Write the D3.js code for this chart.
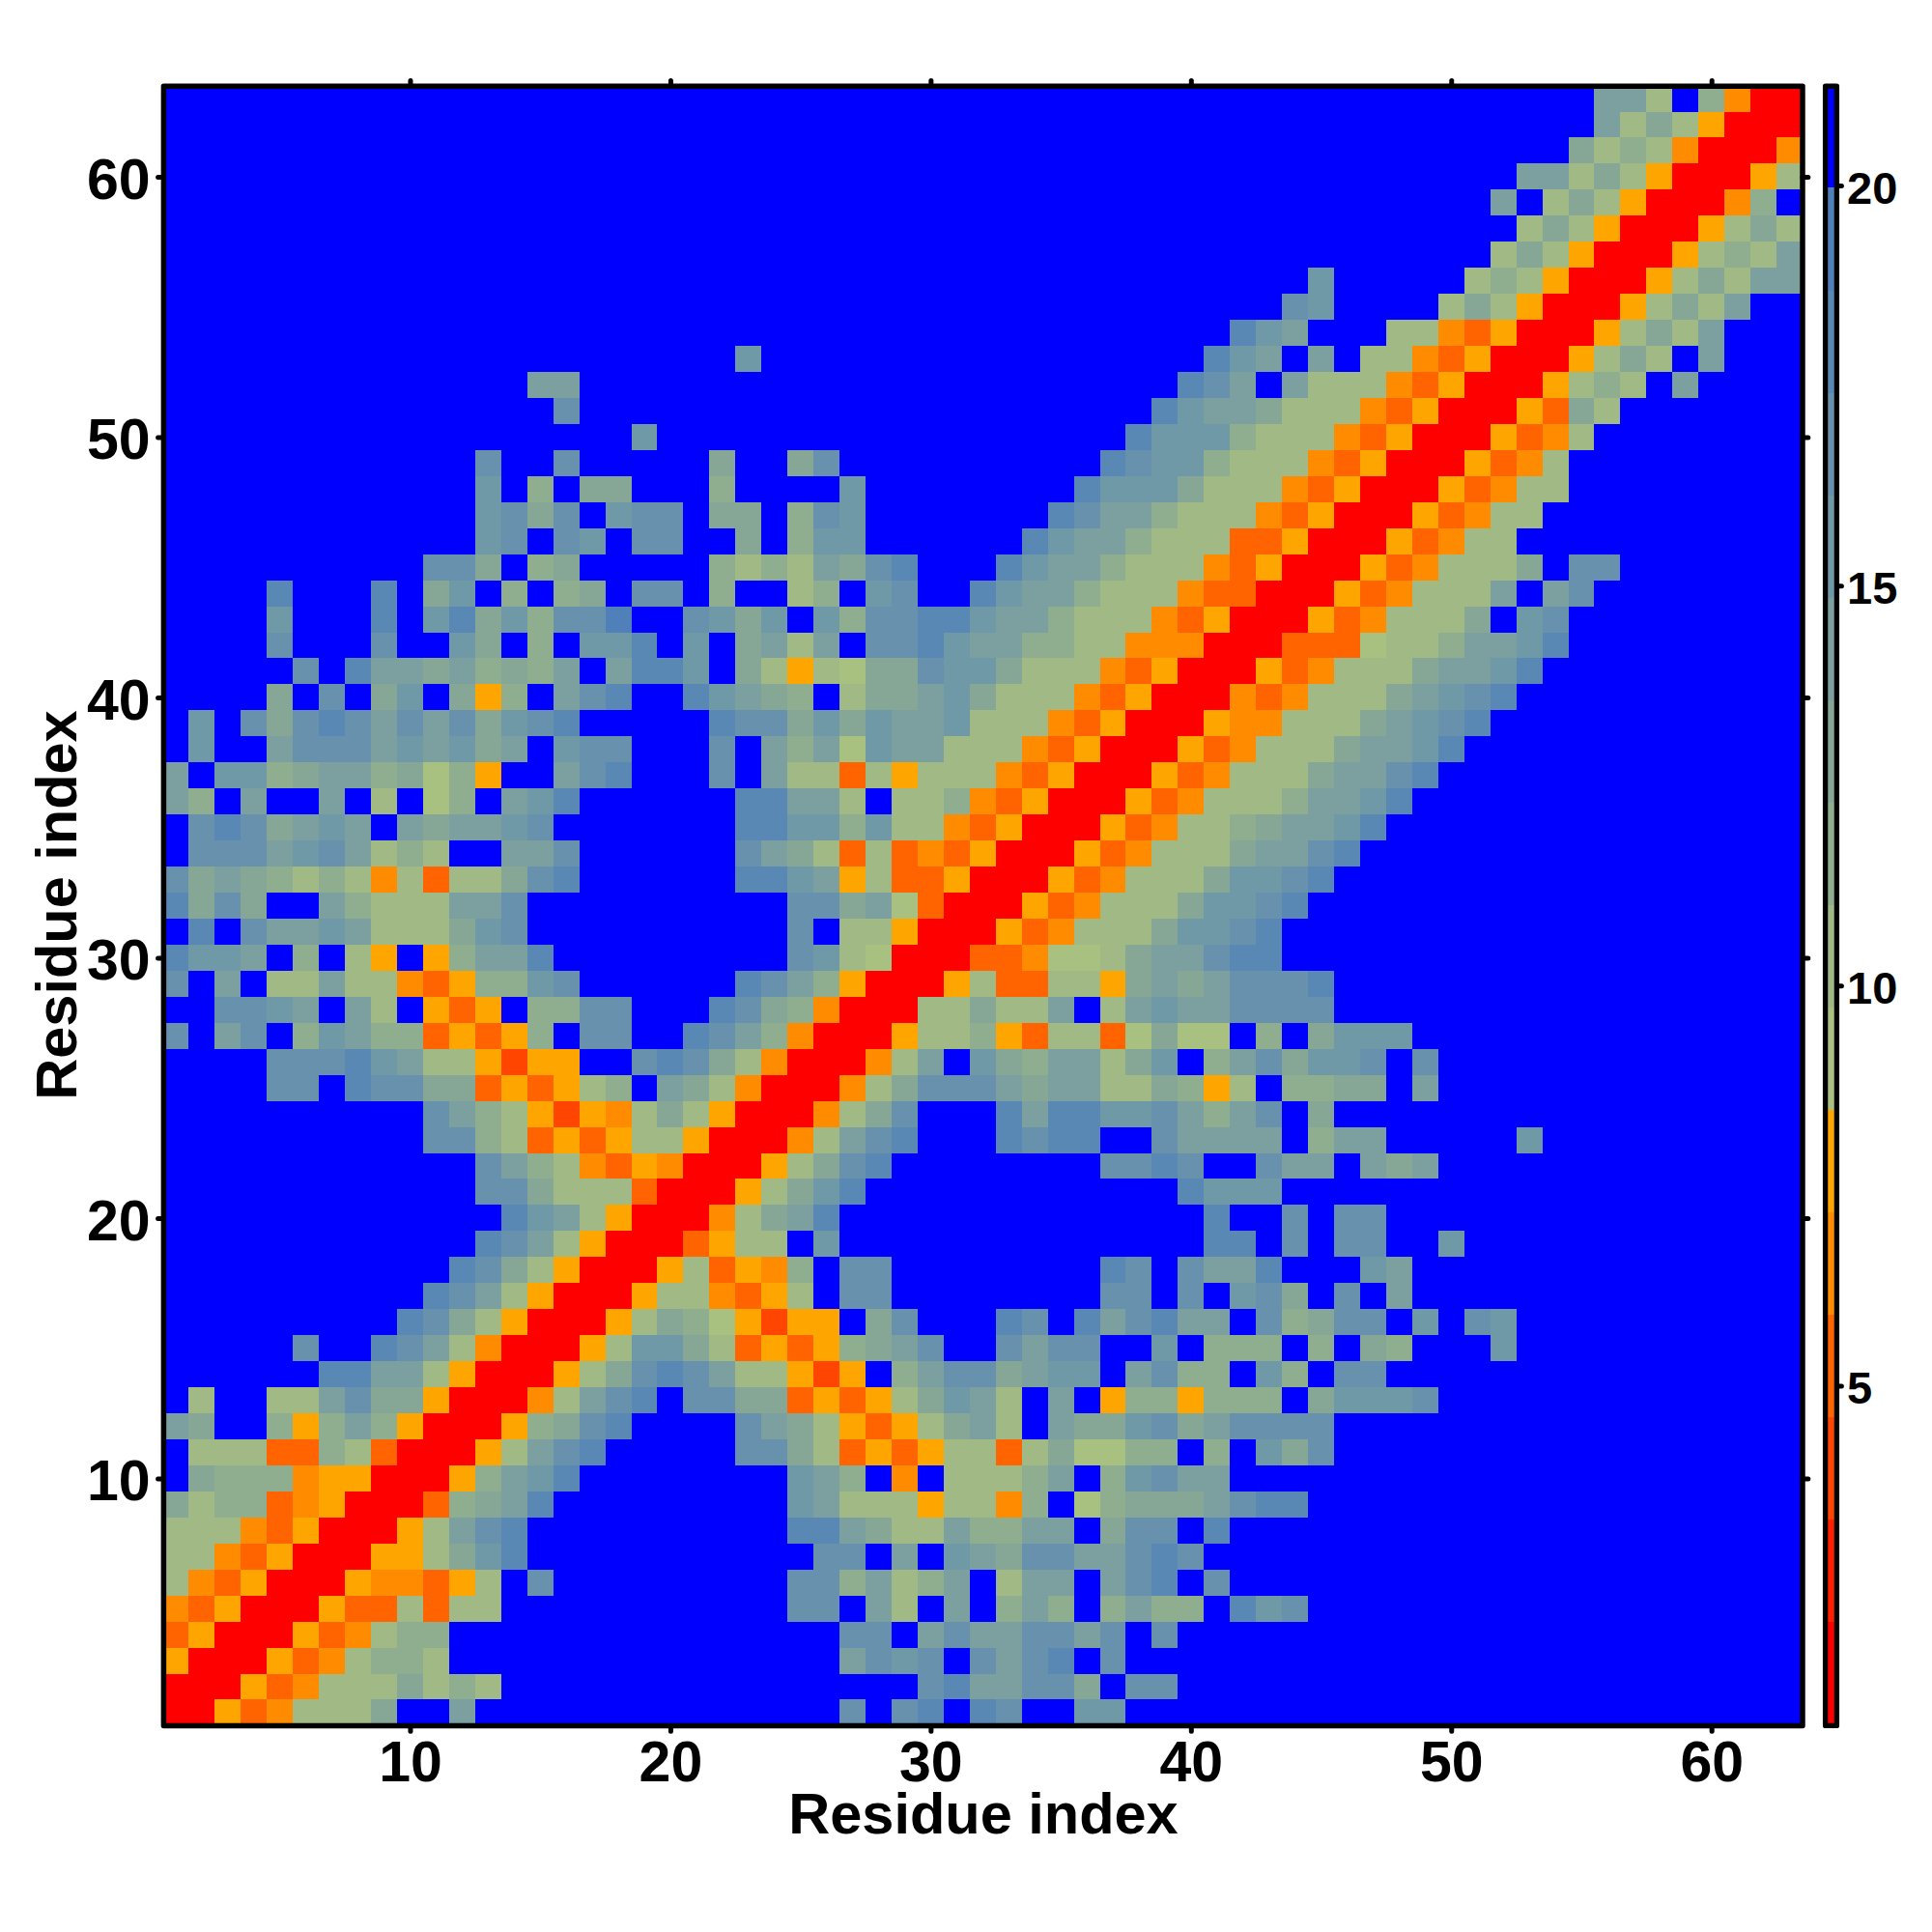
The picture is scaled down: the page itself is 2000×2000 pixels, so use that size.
<!DOCTYPE html>
<html>
<head>
<meta charset="utf-8">
<script src="https://cdnjs.cloudflare.com/ajax/libs/d3/7.8.5/d3.min.js"></script>
<style>
html,body{margin:0;padding:0;background:#fff}
svg{display:block}
text{font-family:"Liberation Sans",Arial,sans-serif;font-weight:700;fill:#000}
</style>
</head>
<body>
<svg id="chart" width="2000" height="2000"></svg>
<script>
// Each string is one row of the map, from residue 63 (top) down to residue 1.
// R H O o y = red/orange bands, 1-9 = sage to steel bands, . = beyond the top band.
const matrixRows = [
".......... .......... .......... .......... .......... .....552.3 oRR",
".......... .......... .......... .......... .......... .....5242y RRR",
".......... .......... .......... .......... .......... ....4232oR RRo",
".......... .......... .......... .......... .......... ..55242yRR Ry2",
".......... .......... .......... .......... .......... .5.242yRRR o3.",
".......... .......... .......... .......... .......... ..242yRRRy 242",
".......... .......... .......... .......... .......... .242yRRRy2 325",
".......... .......... .......... .......... ....6..... 232yRRRy24 255",
".......... .......... .......... .......... ...76....2 42yRRRy242 5..",
".......... .......... .......... .......... .865...22o OyRRRy2425 ...",
".......... .......... ..6....... .......... 865.5.22oO yRRRy242.5 ...",
".......... ....55.... .......... .........8 75.5222oOy RRRy232.5. ...",
".......... .....7.... .......... ........86 554222oOyR RRyO42.... ...",
".......... ........6. .......... .......866 63222oOyRR RyOo2..... ...",
".......... ..7..7.... .4..47.... ......8766 3222oOyRRR yOo2...... ...",
".......... ..6.3.44.. .3....6... .....86664 222oOyRRRy Oo22...... ...",
".......... ..6747.677 .44.376... ....875532 22oOyRRRyO o22....... ...",
".......... ..67.76.77 ..4.366... ...8655322 2OOyRRRyOo 22........ ...",
".......... 774.34.... .32325478. ..86553222 oOyRRRyOo2 224.77.... ...",
"....8...8. 46.3.34.77 .3..23.67. .86553222o OORRRyOo22 25.57..... ...",
"....6...8. 68463779.. 7646.63778 86553222oO yRRRyOo222 4.67...... ...",
"....7...7. .64.3.668. 6.4525.778 6553322ooo RRROOO1223 5568...... ...",
".....7.855 453435.588 6.42y21447 664222oOyR RRyOo22245 568....... ...",
"....4.7.46 .4y3.578.. 86543.2445 64222oOyRR RoOo222456 78........ ...",
".6.7478757 574678.... .877464655 6222oOyRRR yoo2224567 8......... ...",
".6..577756 5645.677.. .7.5351655 222oOyRRRy Oo22245568 .......... ...",
"5.66345534 13y..578.. .7.522O2y2 22oOyRRRyO o22245578. .......... ...",
"53.5..5.2. 13.568.... ..88552.22 3oOyRRRyOo 22235568.. .......... ...",
".7874565.5 45567..... ..88663622 oOyRRRyOo2 2345568... .......... ...",
".777567523 2..557.... ..7542O2Oo OyRRRyOo22 245578.... .......... ...",
"74543232o2 O22478.... ..8865y2OO yRRRyOo222 46678..... .......... ...",
"8474..5322 2557...... ....77451O RRRyOo2224 6678...... .......... ...",
".8.7556522 2467...... ....7.22yR RRyOo22246 678....... .......... ...",
"8665.3.2y. y3558..... ....7621RR ROOo112455 788....... .......... ...",
"7.5.22522o Oy3367.... ..8753yRRR y2OO22y454 57778..... .......... ...",
"..7765.52. yOy.3377.. .8743oRRR2 24225.2565 57777..... .......... ...",
"7.57.36533 OyOy3.77.. 8753oRRRy2 23yO22O141 1.3.4666.. .......... ...",
"....777865 22yHyy..78 742oRRRo25 .64355246. 3574667.7. .......... ...",
"....77.877 44OyOy23.5 42oRRRo247 7754552243 y2.3344.5. .......... ...",
".......... 7532yHyo24 2yRRRo247. ..85886675 357.4..... .......... ...",
".......... 7732OyOy22 yRRRo2578. ..8788..75 555.355... ..6....... ...",
".......... ..7532oOyo RRRy2478.. ......7787 ..755.545. .......... ...",
".......... ..774222OR RRy2468... .........8 666....... .......... ...",
".......... ...8652yRR Ro2458.... .......... 8..7.77... .......... ...",
".......... ..8752yRRR Oy22.6.... .......... 88.7.77..6 .......... ...",
".......... .8742yRRRy 2Oyo3.77.. ......87.7 558...65.. .......... ...",
".......... 8752yRRRy2 2oOy2.77.. ......77.7 .674.7.5.. .......... ...",
".........8 742yRRRy24 31yHyy.47. ..87.85785 5.73477.6. 76........ ...",
".....7..87 52oRRRy266 42OyOy3457 ..7577..6. 333.3.43.. .6........ ...",
"......8855 2yRRRy2478 7522yHy.35 774566.573 3.63.77... .......... ...",
".2..225744 yRRRo2578. 7744OyOy24 652.5.y33y 333.46667. .......... ...",
"54..3y353y RRRy3478.. ..7542yOy2 452.544674 57777..... .......... ...",
".222OO32OR RRy2578... ..7742OyOy 22O241133. 3.647..... .......... ...",
".4333oyyRR Ry3568.... ....653.o. 22235.3675 5......... .......... ...",
"4233OoyRRR O3458..... ....65222y 22o3.13444 5788...... .......... ...",
"222oOyRRRy 2578...... ....885422 53355.477. 8......... .......... ...",
"22oOyRRRyy 2468...... .....77.5. 6547755787 .......... .......... ...",
"2oOyRRRyoo Oy2.7..... ....773523 5.255.578. 7......... .......... ...",
"oOyRRRyOO2 O22....... ....77.52. 5.353.3533 .867...... .......... ...",
"OyRRRyOo23 3......... ......77.5 7557757.7. .......... .......... ...",
"yRRRyOo233 2......... ......5767 .7578.7... .......... .......... ...",
"RRRyOo2224 232....... .........7 855774.77. .......... .......... ...",
"RRyOo2224. .5........ ......7.78 .87..66... .......... .......... ..."
];
const bandCodes = "R.HOoy123456789.";
const bandColors = ["#ff0000","#ff2000","#ff4500","#ff6400","#ff8c00","#ffa500",
  "#a8c080","#a0b985","#8fae8f","#86a696","#7c9fa0","#7099a8","#6891ad","#5a88b5","#5080ba","#0000ff"];
const valueMin = 0.77, valueMax = 21.25;
const axisTicks = [10,20,30,40,50,60];
const barTicks = [5,10,15,20];
const axisTitle = "Residue index";

const svg = d3.select("#chart");
const x = d3.scaleLinear().domain([0.5,63.5]).range([168.5,1866]);
const y = d3.scaleLinear().domain([0.5,63.5]).range([1786.4,88.6]);
const barY = d3.scaleLinear().domain([5,20]).range([1434.5,192]);
const color = d3.scaleQuantize().domain([valueMin,valueMax]).range(bandColors);
const bandWidth = (valueMax-valueMin)/bandColors.length;

const cells = [];
matrixRows.forEach((row,i)=>{
  const chars = row.replace(/ /g,"");
  if(chars.length!==63) console.error("row "+(63-i)+" has "+chars.length);
  Array.from(chars).forEach((c,j)=>{
    const k = c==="."?15:bandCodes.indexOf(c);
    cells.push({col:j+1,row:63-i,value:valueMin+bandWidth*(k+0.5)});
  });
});

svg.append("g").attr("shape-rendering","crispEdges").selectAll("rect").data(cells).join("rect")
  .attr("x",d=>x(d.col-0.5)).attr("y",d=>y(d.row+0.5))
  .attr("width",d=>x(d.col+0.5)-x(d.col-0.5)).attr("height",d=>y(d.row-0.5)-y(d.row+0.5))
  .attr("fill",d=>color(d.value));

function styleAxis(g,size,dy){
  g.select(".domain").remove();
  g.selectAll(".tick line").attr("stroke","#000").attr("stroke-width",5).attr("stroke-linecap","round");
  g.selectAll(".tick text").style("font-size",size+"px").style("font-family",'"Liberation Sans",Arial,sans-serif').style("font-weight",700).attr("fill","#000");
  if(dy) g.selectAll(".tick text").attr("dy",dy);
}
const L=169.4,R=1866,T=89.2,B=1786.4;
svg.append("g").attr("transform",`translate(0,${B})`)
  .call(d3.axisBottom(x).tickValues(axisTicks).tickSize(5.8).tickPadding(9.8)).call(styleAxis,59);
svg.append("g").attr("transform",`translate(0,${T})`)
  .call(d3.axisTop(x).tickValues(axisTicks).tickSize(5.8).tickFormat("")).call(styleAxis,59);
svg.append("g").attr("transform",`translate(${L},0)`)
  .call(d3.axisLeft(y).tickValues(axisTicks).tickSize(5.8).tickPadding(8)).call(styleAxis,59,"0.38em");
svg.append("g").attr("transform",`translate(${R},0)`)
  .call(d3.axisRight(y).tickValues(axisTicks).tickSize(5.8).tickFormat("")).call(styleAxis,59);

svg.append("rect").attr("x",L).attr("y",T).attr("width",R-L).attr("height",B-T)
  .attr("fill","none").attr("stroke","#000").attr("stroke-width",5.5).attr("stroke-linejoin","round");

// colour bar
const barBands = d3.range(bandColors.length).map(k=>({lo:valueMin+k*bandWidth,hi:valueMin+(k+1)*bandWidth}));
svg.append("g").attr("shape-rendering","crispEdges").selectAll("rect").data(barBands).join("rect")
  .attr("x",1889.6).attr("width",11.8)
  .attr("y",d=>barY(d.hi)).attr("height",d=>barY(d.lo)-barY(d.hi))
  .attr("fill",d=>color((d.lo+d.hi)/2));
svg.append("rect").attr("x",1889.6).attr("y",T).attr("width",11.8).attr("height",B-T)
  .attr("fill","none").attr("stroke","#000").attr("stroke-width",5.3).attr("stroke-linejoin","round");
svg.append("g").attr("transform","translate(1901.4,0)")
  .call(d3.axisRight(barY).tickValues(barTicks).tickSize(5).tickPadding(5.6)).call(styleAxis,47,"0.39em");

svg.append("text").attr("x",1018).attr("y",1898).attr("text-anchor","middle").style("font-size","59.5px").text(axisTitle);
svg.append("text").attr("transform","translate(79,937) rotate(-90)").attr("text-anchor","middle").style("font-size","59.5px").text(axisTitle);
</script>
</body>
</html>
